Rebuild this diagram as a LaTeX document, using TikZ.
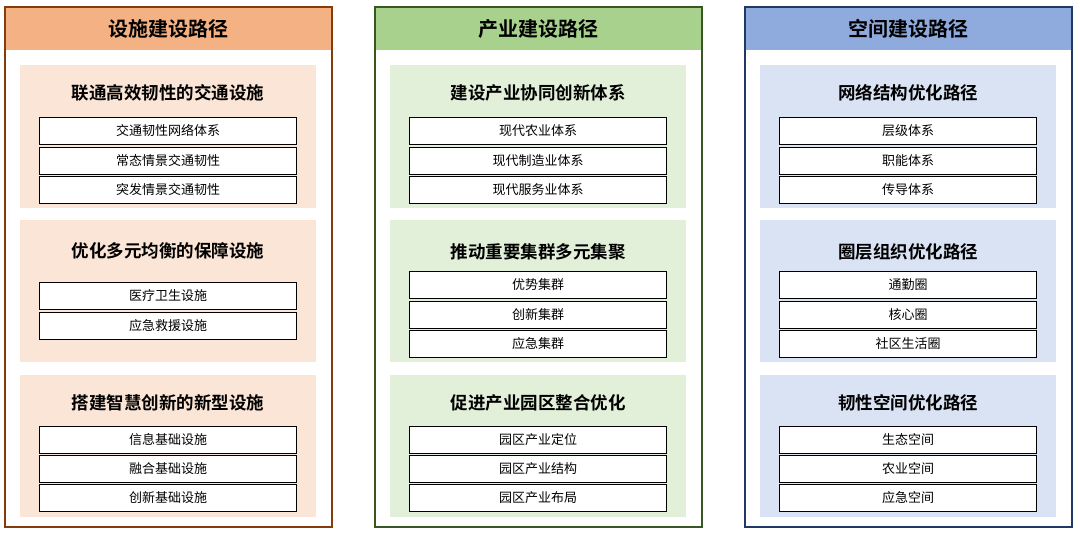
\documentclass[tikz,border=0pt]{standalone}
\usepackage{fontspec}
\setmainfont{Noto Sans CJK SC}
\newfontfamily\cjkb{Noto Sans CJK SC Bold}
\begin{document}
\begin{tikzpicture}[x=1pt,y=-1pt,
  hdr/.style={font=\cjkb\fontsize{20}{22}\selectfont,anchor=center},
  sect/.style={font=\cjkb\fontsize{17.5}{19}\selectfont,anchor=center},
  item/.style={draw=black,line width=0.8pt,fill=white,minimum width=257pt,minimum height=27pt,font=\fontsize{13}{14}\selectfont,inner sep=0pt}]
\useasboundingbox (0,0) rectangle (1080,535);
\definecolor{oh}{HTML}{F4B183}\definecolor{ob}{HTML}{843C0C}\definecolor{ol}{HTML}{FBE5D6}
\definecolor{gh}{HTML}{A9D18E}\definecolor{gb}{HTML}{385723}\definecolor{gl}{HTML}{E2F0D9}
\definecolor{bh}{HTML}{8FAADC}\definecolor{bb}{HTML}{203864}\definecolor{bl}{HTML}{DAE3F3}
% column 1
\fill[oh] (5,7) rectangle (332,50);
\draw[ob,line width=2.5pt] (5,7) rectangle (332,527);
\node[hdr] (h1) at (168.5,29) {设施建设路径};
\fill[ol] (20,65) rectangle (316,208);
\fill[ol] (20,220) rectangle (316,362);
\fill[ol] (20,375) rectangle (316,517);
\node[sect] (s11) at (168,93) {联通高效韧性的交通设施};
\node[item] (i111) at (168,131) {交通韧性网络体系};
\node[item] (i112) at (168,161) {常态情景交通韧性};
\node[item] (i113) at (168,190) {突发情景交通韧性};
\node[sect] (s12) at (168,251) {优化多元均衡的保障设施};
\node[item] (i121) at (168,296) {医疗卫生设施};
\node[item] (i122) at (168,326) {应急救援设施};
\node[sect] (s13) at (168,403) {搭建智慧创新的新型设施};
\node[item] (i131) at (168,440) {信息基础设施};
\node[item] (i132) at (168,469) {融合基础设施};
\node[item] (i133) at (168,498) {创新基础设施};
% column 2
\fill[gh] (375,7) rectangle (702,50);
\draw[gb,line width=2.5pt] (375,7) rectangle (702,527);
\node[hdr] (h2) at (538.5,29) {产业建设路径};
\fill[gl] (390,65) rectangle (686,208);
\fill[gl] (390,220) rectangle (686,362);
\fill[gl] (390,375) rectangle (686,517);
\node[sect] (s21) at (538,93) {建设产业协同创新体系};
\node[item] (i211) at (538,131) {现代农业体系};
\node[item] (i212) at (538,161) {现代制造业体系};
\node[item] (i213) at (538,190) {现代服务业体系};
\node[sect] (s22) at (538,252) {推动重要集群多元集聚};
\node[item] (i221) at (538,285) {优势集群};
\node[item] (i222) at (538,315) {创新集群};
\node[item] (i223) at (538,344) {应急集群};
\node[sect] (s23) at (538,403) {促进产业园区整合优化};
\node[item] (i231) at (538,440) {园区产业定位};
\node[item] (i232) at (538,469) {园区产业结构};
\node[item] (i233) at (538,498) {园区产业布局};
% column 3
\fill[bh] (745,7) rectangle (1072,50);
\draw[bb,line width=2.5pt] (745,7) rectangle (1072,527);
\node[hdr] (h3) at (908.5,29) {空间建设路径};
\fill[bl] (760,65) rectangle (1056,208);
\fill[bl] (760,220) rectangle (1056,362);
\fill[bl] (760,375) rectangle (1056,517);
\node[sect] (s31) at (908,93) {网络结构优化路径};
\node[item] (i311) at (908,131) {层级体系};
\node[item] (i312) at (908,161) {职能体系};
\node[item] (i313) at (908,190) {传导体系};
\node[sect] (s32) at (908,252) {圈层组织优化路径};
\node[item] (i321) at (908,285) {通勤圈};
\node[item] (i322) at (908,315) {核心圈};
\node[item] (i323) at (908,344) {社区生活圈};
\node[sect] (s33) at (908,403) {韧性空间优化路径};
\node[item] (i331) at (908,440) {生态空间};
\node[item] (i332) at (908,469) {农业空间};
\node[item] (i333) at (908,498) {应急空间};
\end{tikzpicture}
\end{document}
